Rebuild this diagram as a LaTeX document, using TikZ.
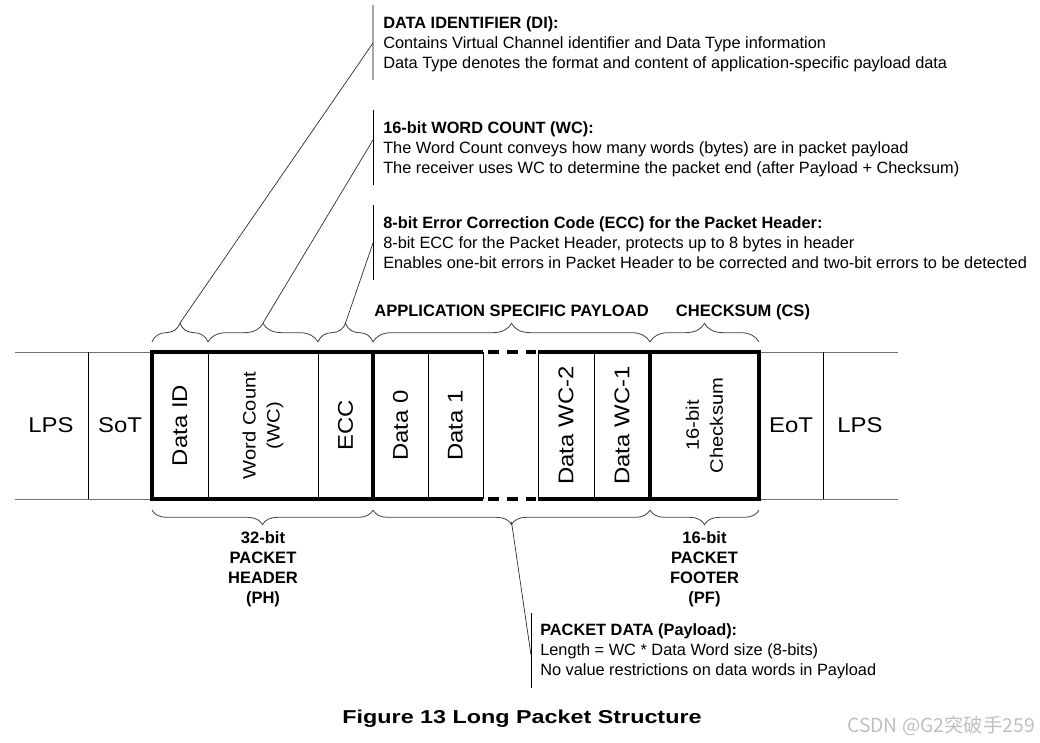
\documentclass[tikz,border=0pt]{standalone}
\usepackage{fontspec}
\setmainfont{Liberation Sans}
\newfontfamily\cellfont{Liberation Sans}[FakeStretch=1.12]
\newfontfamily\titlefont{Liberation Sans}[FakeStretch=1.25]
\newfontfamily\cjkfont{Noto Sans CJK SC}
\usetikzlibrary{decorations.pathreplacing, calc}

\tikzset{
  note/.style={anchor=base west, align=left, inner sep=0pt,
    font=\fontsize{12.25}{15}\selectfont},
  heading/.style={anchor=base, align=center, inner sep=0pt,
    font=\fontsize{12.4}{15}\selectfont\bfseries},
  bigcell/.style={inner sep=0pt, font=\cellfont\fontsize{16}{19}\selectfont},
  midcell/.style={inner sep=0pt, align=center, font=\cellfont\fontsize{13.5}{18}\selectfont},
  thinline/.style={line width=0.75pt},
  boldline/.style={line width=2.4pt},
  outerline/.style={line width=0.75pt, black!55},
  topbrace/.style={decorate, decoration={brace, amplitude=14pt}, line width=0.6pt, black!75},
  botbrace/.style={decorate, decoration={brace, amplitude=11pt}, line width=0.6pt, black!75},
  leader/.style={line width=0.5pt, black!85},
  notebar/.style={line width=0.75pt}
}

\begin{document}
\begin{tikzpicture}[x=0.75pt, y=-0.75pt]
  \useasboundingbox (0,0) rectangle (1040,743);
  \def\top{352}
  \def\bot{499}
  \def\mid{425.5}

  % lane lines outside the packet
  \draw[outerline] (15,\top) -- (152,\top);
  \draw[outerline] (15,\bot) -- (152,\bot);
  \draw[outerline] (759,\top) -- (898,\top);
  \draw[outerline] (759,\bot) -- (898,\bot);

  % thin field borders
  \foreach \x in {88,208,318,428,483,538,594,823}{
    \draw[thinline] (\x,\top) -- (\x,\bot);
  }
  % packet outline
  \draw[boldline] (483,\top) -- (152,\top) -- (152,\bot) -- (483,\bot);
  \draw[boldline] (538,\top) -- (759,\top) -- (759,\bot) -- (538,\bot);
  \draw[boldline] (373,\top) -- (373,\bot);
  \draw[boldline] (650,\top) -- (650,\bot);
  \draw[boldline, dash pattern=on 8pt off 6pt, dash phase=-4pt] (483,\top) -- (538,\top);
  \draw[boldline, dash pattern=on 8pt off 6pt, dash phase=-4pt] (483,\bot) -- (538,\bot);

  % field names
  \node[bigcell] (lpsl) at (51,\mid) {LPS};
  \node[bigcell] (sot) at (120,\mid) {SoT};
  \node[bigcell, rotate=90] (di) at (180,\mid) {Data ID};
  \node[midcell, rotate=90] (wc) at (263,\mid) {Word Count\\(WC)};
  \node[bigcell, rotate=90] (ecc) at (345.5,\mid) {ECC};
  \node[bigcell, rotate=90] (dzero) at (400.5,\mid) {Data 0};
  \node[bigcell, rotate=90] (done) at (455.5,\mid) {Data 1};
  \node[bigcell, rotate=90] (dwctwo) at (566,\mid) {Data WC-2};
  \node[bigcell, rotate=90] (dwcone) at (622,\mid) {Data WC-1};
  \node[midcell, rotate=90] (cs) at (704.5,\mid) {16-bit\\Checksum};
  \node[bigcell] (eot) at (791,\mid) {EoT};
  \node[bigcell] (lpsr) at (860,\mid) {LPS};

  % braces above
  \draw[topbrace] (152,342) -- (208,342);
  \draw[topbrace] (208,342) -- (318,342);
  \draw[topbrace] (318,342) -- (373,342);
  \draw[topbrace] (373,342) -- (650,342);
  \draw[topbrace] (650,342) -- (759,342);
  \coordinate (ditip) at (180,323);
  \coordinate (wctip) at (263,323);
  \coordinate (ecctip) at (345.5,323);
  \node[heading] (asp) at (511.5,316) {APPLICATION SPECIFIC PAYLOAD};
  \node[heading] (csum) at (743,316) {CHECKSUM (CS)};

  % braces below (base = last line)
  \draw[botbrace] (373,510) -- (152,510);
  \draw[botbrace] (650,510) -- (373,510);
  \draw[botbrace] (759,510) -- (650,510);
  \coordinate (pdtip) at (511.5,522);
  \node[heading] (ph) at (263,603) {32-bit\\PACKET\\HEADER\\(PH)};
  \node[heading] (pf) at (704.5,603) {16-bit\\PACKET\\FOOTER\\(PF)};

  % notes with their bars
  \draw[notebar, black!35, line width=1.6pt] (373,5) -- (373,80);
  \draw[notebar] (373,110) -- (373,185);
  \draw[notebar] (373,205) -- (373,280);
  \draw[notebar] (531,613) -- (531,688);
  \coordinate (dibar) at (373,43);
  \coordinate (wcbar) at (373,140);
  \coordinate (eccbar) at (373,243);
  \coordinate (pdbar) at (531,655);
  \node[note] (dinote) at (383,68) {\textbf{DATA IDENTIFIER (DI):}\\
    Contains Virtual Channel identifier and Data Type information\\
    Data Type denotes the format and content of application-specific payload data};
  \node[note] (wcnote) at (383,173) {\textbf{16-bit WORD COUNT (WC):}\\
    The Word Count conveys how many words (bytes) are in packet payload\\
    The receiver uses WC to determine the packet end (after Payload + Checksum)};
  \node[note] (eccnote) at (383,268) {\textbf{8-bit Error Correction Code (ECC) for the Packet Header:}\\
    8-bit ECC for the Packet Header, protects up to 8 bytes in header\\
    Enables one-bit errors in Packet Header to be corrected and two-bit errors to be detected};
  \node[note] (pdnote) at (540,675) {\textbf{PACKET DATA (Payload):}\\
    Length = WC * Data Word size (8-bits)\\
    No value restrictions on data words in Payload};

  \draw[leader] (ditip) -- (dibar);
  \draw[leader] (wctip) -- (wcbar);
  \draw[leader] (ecctip) -- (eccbar);
  \draw[leader] (pdtip) -- (pdbar);

  \node[anchor=base, inner sep=0pt, font=\titlefont\fontsize{14}{17}\selectfont\bfseries]
    (title) at (522,723) {Figure 13 Long Packet Structure};
  \node[anchor=base east, inner sep=0pt, text=black!25, font=\cjkfont\fontsize{14.5}{16}\selectfont]
    (mark) at (1035,732) {CSDN @G2突破手259};
\end{tikzpicture}
\end{document}
